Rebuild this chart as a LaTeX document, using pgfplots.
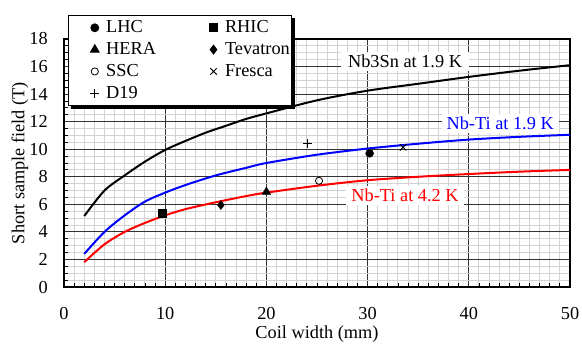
\documentclass[border=0pt]{standalone}
\usepackage{pgfplots}
\pgfplotsset{compat=1.18}
\usepackage{fontspec}
\setmainfont{Liberation Serif}
\usetikzlibrary{shadows}
\newcommand{\fs}{\fontsize{18.3}{22}\selectfont}
\begin{document}
\fs
\begin{tikzpicture}
\begin{axis}[name=ax, scale only axis, width=506pt, height=248pt,
 xmin=0, xmax=50, ymin=0, ymax=18,
 xtick={0,10,...,50}, ytick={0,2,...,18},
 minor x tick num=9, minor y tick num=3,
 grid=both,
 major grid style={black!80, line width=0.8pt},
 minor grid style={gray!35, line width=1pt},
 xtick pos=bottom, ytick pos=left,
 tick align=inside,
 major tick length=0pt, minor tick length=4pt,
 minor tick style={black, line width=0.8pt},
 axis line style={black, line width=1.2pt},
 /pgf/number format/assume math mode=true,
 tick label style={font=\fs},
 xticklabel style={inner sep=0pt, text depth=0pt, yshift=-20pt},
 yticklabel style={xshift=-10pt},
 xlabel={Coil width (mm)}, ylabel={Short sample field (T)},
 label style={font=\fs, inner sep=0pt},
 xlabel style={at={(axis description cs:0.5,-0.208)}, anchor=base},
 ylabel style={at={(axis description cs:-0.087,0.5)}, anchor=center},
 legend columns=2,
 legend cell align=left,
 legend image code/.code={\path (-24pt,0pt) (11pt,0pt); \draw[#1] plot coordinates {(0pt,0pt)};},
 legend style={at={(axis description cs:0.0079,1.097)}, anchor=north west,
   font=\fs, draw=black, line width=0.8pt, fill=white,
   inner xsep=2pt, inner ysep=5pt,
   nodes={inner sep=0pt},
   drop shadow={shadow xshift=3pt, shadow yshift=-3pt, fill=black, opacity=1},
   /tikz/every even column/.append style={column sep=33pt},
   row sep=7pt},
]
% Nb3Sn at 1.9 K
\addplot[black, line width=2pt, smooth, forget plot] coordinates {
(2,5.15) (4,7.0) (6,8.1) (8,9.1) (10,9.95) (12,10.6) (14,11.2) (16,11.7) (18,12.2) (20,12.6) (25,13.55) (30,14.25) (35,14.75) (40,15.25) (45,15.7) (50,16.1)};
% Nb-Ti at 1.9 K
\addplot[blue, line width=2pt, smooth, forget plot] coordinates {
(2,2.4) (4,4.0) (6,5.2) (8,6.2) (10,6.85) (12,7.4) (15,8.1) (18,8.65) (20,9.0) (25,9.6) (30,10.05) (35,10.4) (40,10.7) (45,10.9) (50,11.05)};
% Nb-Ti at 4.2 K
\addplot[red, line width=2pt, smooth, forget plot] coordinates {
(2,1.8) (4,3.1) (6,4.0) (8,4.65) (10,5.2) (12,5.65) (15,6.15) (18,6.6) (20,6.85) (25,7.35) (30,7.75) (35,8.0) (40,8.2) (45,8.37) (50,8.5)};
\node[fill=white, inner xsep=7pt, inner ysep=3pt] at (axis cs:33.7,16.4) {Nb3Sn at 1.9 K};
\node[fill=white, text=blue, inner xsep=5pt, inner ysep=3pt] at (axis cs:43.1,11.9) {Nb-Ti at 1.9 K};
\node[fill=white, text=red, inner xsep=5pt, inner ysep=3pt] at (axis cs:33.7,6.65) {Nb-Ti at 4.2 K};
% markers
\addplot[only marks, mark=*, mark size=4pt, black] coordinates {(30.2,9.7)};
\addlegendentry{LHC}
\addplot[only marks, mark=square*, mark size=4pt, black] coordinates {(9.7,5.35)};
\addlegendentry{RHIC}
\addplot[only marks, mark=triangle*, mark size=5pt, black] coordinates {(20.0,6.9)};
\addlegendentry{HERA}
\addplot[only marks, mark=diamond*, mark size=4.5pt, black] coordinates {(15.5,5.95)};
\addlegendentry{Tevatron}
\addplot[only marks, mark=o, mark size=3.6pt, black, line width=0.8pt, mark options={fill=white}] coordinates {(25.2,7.71)};
\addlegendentry{SSC}
\addplot[only marks, mark=x, mark size=4.5pt, black, line width=1pt] coordinates {(33.5,10.14)};
\addlegendentry{Fresca}
\addplot[only marks, mark=+, mark size=4.5pt, black, line width=0.8pt] coordinates {(24.05,10.43)};
\addlegendentry{D19}
\end{axis}
\pgfresetboundingbox
\path ([shift={(-64pt,-56pt)}]ax.south west) rectangle ([shift={(12pt,39pt)}]ax.north east);
\end{tikzpicture}
\end{document}
